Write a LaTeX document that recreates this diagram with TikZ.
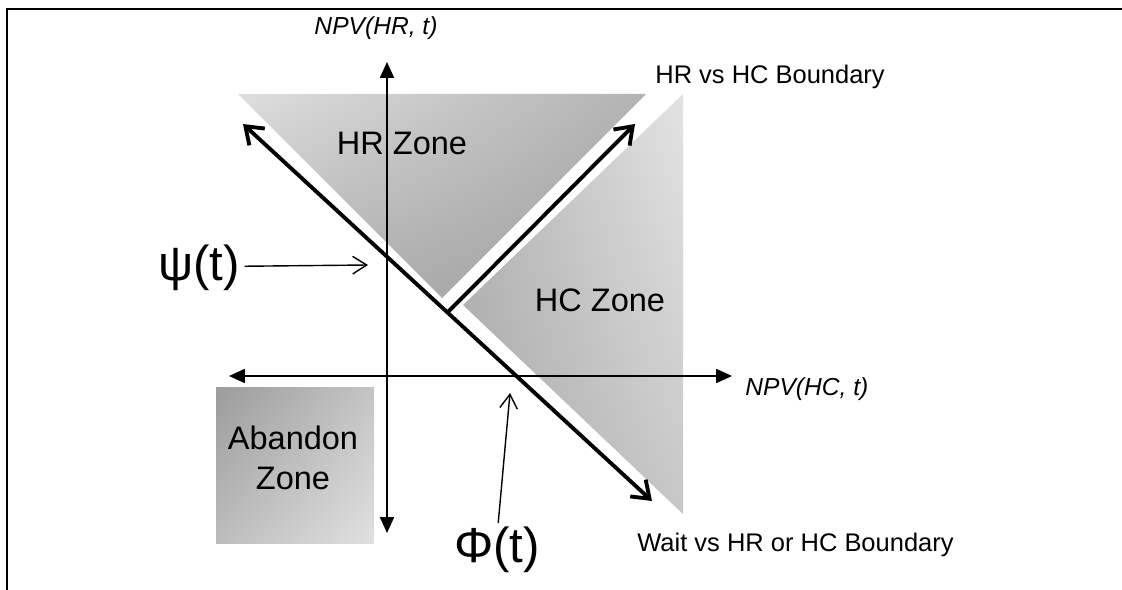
\documentclass[tikz,border=0pt]{standalone}
\usepackage{fontspec}
\setmainfont{Liberation Sans}
\usetikzlibrary{arrows.meta,calc,positioning,shadings}

\begin{document}
\begin{tikzpicture}[scale=0.2,
    axis/.style={black, line width=0.85pt, {Triangle[length=9pt,width=8pt]}-{Triangle[length=9pt,width=8pt]}},
    bound/.style={black, line width=2.2pt},
    pointer/.style={black, line width=0.8pt, -{Straight Barb[length=8pt,width=10pt]}},
    small/.style={font=\fontsize{14.5pt}{17pt}\selectfont},
    slanted/.style={font=\fontsize{14pt}{17pt}\selectfont\itshape},
    zone/.style={font=\fontsize{18.5pt}{22.7pt}\selectfont, align=center},
    greek/.style={font=\fontsize{28pt}{32pt}\selectfont}]
    \tikzstyle{every node}+=[inner sep=0pt]
    \useasboundingbox (0,0) rectangle (112.2,-59);
    \draw [black, line width=1.4pt] (0.7,-59) -- (0.7,-0.9) -- (112.2,-0.9);
    \shade [upper left=black!13, upper right=black!30, lower left=black!30, lower right=black!38] (23.8,-9.4) -- (64.6,-9.4) -- (44.2,-29.8) -- cycle;
    \shade [upper left=black!28, upper right=black!11, lower left=black!34, lower right=black!22] (68.3,-9.4) -- (68.3,-51.4) -- (46.3,-30.5) -- cycle;
    \shade [upper left=black!39, upper right=black!23, lower left=black!26, lower right=black!12] (21.6,-38.7) rectangle (37.4,-54.3);
    \coordinate (vt) at (38.7,-6.2);
    \coordinate (vb) at (38.7,-53.3);
    \coordinate (hl) at (22.9,-37.6);
    \coordinate (hr) at (73.2,-37.6);
    \coordinate (wtl) at (24.3,-12.4);
    \coordinate (wbr) at (65.2,-50.1);
    \coordinate (hrbase) at ($(wtl)!0.5!(wbr)$);
    \coordinate (hrtip) at (63.5,-12.4);
    \coordinate (psitip) at (36.8,-26.5);
    \coordinate (phitip) at (51.0,-39.3);
    \draw [axis] (vb) -- (vt);
    \draw [axis] (hl) -- (hr);
    \draw [bound, {Straight Barb[length=9pt,width=13pt]}-{Straight Barb[length=9pt,width=13pt]}] (wtl) -- (wbr);
    \draw [bound, -{Straight Barb[length=9pt,width=13pt]}] (hrbase) -- (hrtip);
    \node [slanted] (npvhr) at (37.6,-2.8) {NPV(HR, t)};
    \node [slanted, anchor=west] (npvhc) at (74.5,-38.9) {NPV(HC, t)};
    \node [small, anchor=west] (hrhclab) at (65.5,-7.7) {HR vs HC Boundary};
    \node [small, anchor=west] (waitlab) at (63.7,-54.5) {Wait vs HR or HC Boundary};
    \node [zone] (hrzone) at (40.2,-14.3) {HR Zone};
    \node [zone] (hczone) at (60.0,-30.0) {HC Zone};
    \node [zone] (abandon) at (29.3,-45.8) {Abandon\\Zone};
    \node [greek] (psi) at (19.9,-26.8) {ψ(t)};
    \node [greek] (phi) at (49.7,-55.0) {Φ(t)};
    \draw [pointer] ([xshift=13pt,yshift=5pt]psi.east) -- (psitip);
    \draw [pointer] ([xshift=3.5pt,yshift=11pt]phi.north) -- (phitip);
\end{tikzpicture}
\end{document}
